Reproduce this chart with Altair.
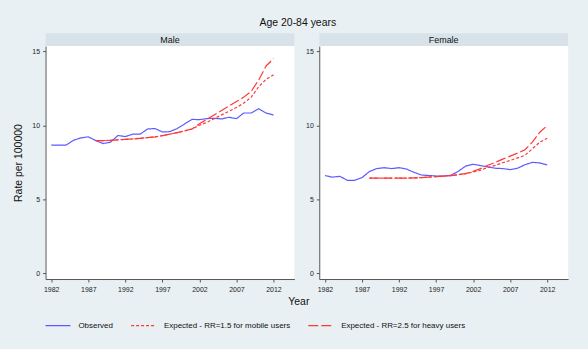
import altair as alt
import pandas as pd

# ---------------- data ----------------
years = list(range(1982, 2013))
exp_years = list(range(1988, 2013))
sexes = ["Male", "Female"]
series_names = [
    "Observed",
    "Expected - RR=1.5 for mobile users",
    "Expected - RR=2.5 for heavy users",
]

male_observed = [8.66, 8.66, 8.66, 8.99, 9.15, 9.22, 8.97, 8.77, 8.86, 9.31,
                 9.24, 9.40, 9.40, 9.75, 9.78, 9.55, 9.57, 9.78, 10.09, 10.40,
                 10.38, 10.45, 10.47, 10.43, 10.54, 10.45, 10.83, 10.83, 11.12,
                 10.83, 10.69]
male_rr15 = [8.97, 8.97, 8.98, 9.02, 9.05, 9.08, 9.12, 9.17, 9.22, 9.30, 9.40,
             9.51, 9.62, 9.75, 10.00, 10.20, 10.45, 10.70, 10.95, 11.20, 11.50,
             11.90, 12.60, 13.10, 13.40]
male_rr25 = [8.97, 8.97, 8.98, 9.02, 9.05, 9.08, 9.12, 9.17, 9.22, 9.30, 9.40,
             9.51, 9.62, 9.75, 10.10, 10.40, 10.70, 11.00, 11.30, 11.60, 11.90,
             12.30, 13.05, 14.00, 14.50]

female_observed = [6.61, 6.50, 6.56, 6.29, 6.29, 6.47, 6.88, 7.08, 7.14, 7.08,
                   7.14, 7.05, 6.83, 6.65, 6.61, 6.58, 6.58, 6.63, 6.90, 7.25,
                   7.37, 7.28, 7.19, 7.10, 7.08, 7.01, 7.10, 7.34, 7.50, 7.46,
                   7.32]
female_rr15 = [6.43, 6.43, 6.43, 6.43, 6.43, 6.44, 6.45, 6.47, 6.50, 6.54, 6.57,
               6.61, 6.67, 6.74, 6.85, 6.98, 7.15, 7.30, 7.47, 7.63, 7.80, 7.97,
               8.42, 8.86, 9.13]
female_rr25 = [6.43, 6.43, 6.43, 6.43, 6.43, 6.44, 6.45, 6.47, 6.50, 6.54, 6.57,
               6.61, 6.67, 6.74, 6.90, 7.08, 7.30, 7.50, 7.72, 7.92, 8.12, 8.35,
               8.86, 9.53, 9.98]

x_ticks = [1982, 1987, 1992, 1997, 2002, 2007, 2012]
y_ticks = [0, 5, 10, 15]

# ---------------- table ----------------
rows = []
for sex, obs, r15, r25 in [("Male", male_observed, male_rr15, male_rr25),
                           ("Female", female_observed, female_rr15, female_rr25)]:
    for yr, v in zip(years, obs):
        rows.append({"sex": sex, "year": yr, "rate": v, "series": series_names[0]})
    for yr, v in zip(exp_years, r15):
        rows.append({"sex": sex, "year": yr, "rate": v, "series": series_names[1]})
    for yr, v in zip(exp_years, r25):
        rows.append({"sex": sex, "year": yr, "rate": v, "series": series_names[2]})
df = pd.DataFrame(rows)

# ---------------- styling ----------------
FONT = "Liberation Sans"
BG = "#e9f0f3"
STRIP = "#d8e3e9"
W, H = 250, 234

xscale = alt.Scale(domain=[1981.23, 2014.82], nice=False, zero=False)
yscale = alt.Scale(domain=[-0.37, 15.34], nice=False, zero=False)

legend = alt.Legend(
    title=None, orient="none", legendX=-1, legendY=267, direction="horizontal",
    symbolType="stroke", symbolSize=625, symbolStrokeWidth=1.3,
    labelFontSize=8, labelFont=FONT, labelColor="#111", labelOffset=7,
    columnPadding=15, labelLimit=300,
)
color = alt.Color("series:N", scale=alt.Scale(domain=series_names,
                  range=["#5b5bff", "#ff3838", "#ff3838"]), legend=legend)
dash = alt.StrokeDash("series:N", scale=alt.Scale(domain=series_names,
                      range=[[1, 0], [3, 2], [10, 3]]), legend=legend)


def panel(sex, first):
    xaxis = alt.Axis(values=x_ticks, format="d", grid=False, labelPadding=3.5,
                     title="Year" if first else None,
                     titleX=254, titleY=23, titleAlign="center",
                     titleBaseline="middle")
    yaxis = alt.Axis(values=y_ticks, grid=False, labelPadding=3,
                     title="Rate per 100000" if first else None,
                     titleX=-27, titleY=H / 2, titleAngle=-90,
                     titleAlign="center", titleBaseline="middle")
    lines = alt.Chart(df).transform_filter(alt.datum.sex == sex).mark_line(
        strokeWidth=1.2
    ).encode(
        x=alt.X("year:Q", scale=xscale, axis=xaxis),
        y=alt.Y("rate:Q", scale=yscale, axis=yaxis),
        color=color,
        strokeDash=dash,
        order="year:Q",
    )
    head = pd.DataFrame({"label": [sex]})
    strip = alt.Chart(head).mark_rect(color=STRIP).encode(
        x=alt.value(0), x2=alt.value(W), y=alt.value(-13), y2=alt.value(0)
    )
    text = alt.Chart(head).mark_text(
        font=FONT, fontSize=9, color="#111", baseline="middle", align="center"
    ).encode(x=alt.value(W / 2), y=alt.value(-6.5), text="label:N")
    return alt.layer(strip, text, lines).properties(width=W, height=H)


chart = alt.hconcat(
    panel("Male", True), panel("Female", False), spacing=25, bounds="flush"
).properties(
    title=alt.TitleParams("Age 20-84 years", fontSize=10.5, fontWeight="normal",
                          font=FONT, color="#111", anchor="middle",
                          frame="bounds", dx=7, offset=5),
    padding={"left": 13.75, "top": 16.5, "right": 20, "bottom": 25},
    background=BG,
).configure_view(
    fill="white", stroke=None
).configure_axis(
    domainColor="#555", domainWidth=1, tickColor="#555", tickSize=3,
    tickWidth=1, labelFontSize=7, labelFont=FONT, labelColor="#222",
    titleFont=FONT, titleFontSize=10.5,
    titleFontWeight="normal", titleColor="#111",
).configure_axisY(labelAngle=0)

chart.save("out.html", embed_options={"renderer": "svg", "actions": False})
